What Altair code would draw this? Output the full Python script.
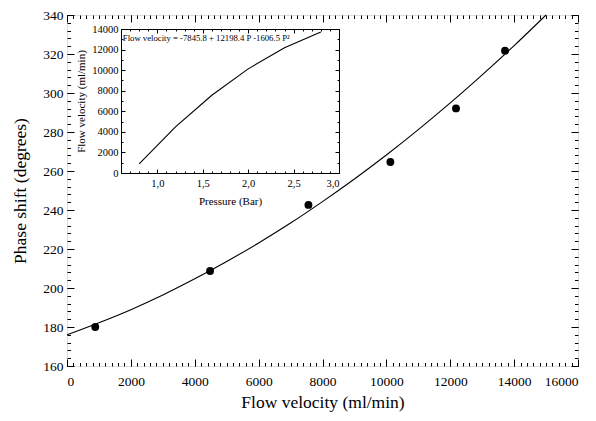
import altair as alt
import pandas as pd

# ---- data ----
main_flow = [885, 4480, 7560, 10125, 12180, 13715]
main_phase = [180.0, 208.7, 242.6, 264.6, 292.1, 321.7]

fit_flow = [0, 1000, 2000, 3000, 4000, 5000, 6000, 7000, 8000, 9000, 10000,
            11000, 12000, 13000, 14000, 15000]
fit_phase = [176.0, 182.2, 188.9, 196.4, 204.7, 213.6, 223.1, 233.3, 244.3,
             255.9, 268.2, 281.2, 294.9, 309.3, 324.3, 340.0]

inset_pressure = [0.8, 1.2, 1.6, 2.0, 2.4, 2.8]
inset_flow = [885, 4480, 7560, 10125, 12180, 13715]

main_x_ticks = [0, 2000, 4000, 6000, 8000, 10000, 12000, 14000, 16000]
main_y_ticks = [160, 180, 200, 220, 240, 260, 280, 300, 320, 340]
main_x_minor = [i * 200 for i in range(0, 81)]
main_y_minor = [160 + i * 4 for i in range(0, 46)]

inset_x_ticks = [1.0, 1.5, 2.0, 2.5, 3.0]
inset_y_ticks = [0, 2000, 4000, 6000, 8000, 10000, 12000, 14000]
inset_x_minor = [round(0.6 + i * 0.1, 2) for i in range(0, 25)]
inset_y_minor = [i * 1000 for i in range(0, 15)]

formula = "Flow velocity = -7845.8 + 12198.4 P -1606.5 P\u00b2"

# ---- layout ----
W, H = 511, 351
FONT = "Liberation Serif"
MX = [0, 16000]
MY = [160, 340]
IX = [0.6, 3.0]
IY = [0, 14000]
IXR = [54, 272]
IYR = [158, 14]

main_df = pd.DataFrame({"x": main_flow, "y": main_phase})
fit_df = pd.DataFrame({"x": fit_flow, "y": fit_phase})
inset_df = pd.DataFrame({"x": inset_pressure, "y": inset_flow})


def sx(dom, rng):
    return alt.Scale(domain=dom, range=rng, nice=False, zero=False)


def tick_axis(orient, offset, values, size, domain=False, width=1.0):
    return alt.Axis(orient=orient, offset=offset, values=values, tickSize=size,
                    labels=False, title=None, grid=False, domain=domain,
                    domainColor="black", domainWidth=width, tickColor="black",
                    tickWidth=1)


def dummy(xdom, ydom, xr, yr, xaxis, yaxis):
    df = pd.DataFrame({"x": [xdom[0]], "y": [ydom[0]]})
    return alt.Chart(df).mark_point(opacity=0).encode(
        x=alt.X("x:Q", scale=sx(xdom, xr), axis=xaxis),
        y=alt.Y("y:Q", scale=sx(ydom, yr), axis=yaxis),
    )


# main labelled axes
main_xaxis = alt.Axis(orient="bottom", values=main_x_ticks, ticks=False, domain=False,
                      grid=False, labelFont=FONT, labelFontSize=13.5, labelColor="black",
                      labelPadding=8, labelOverlap=False,
                      title="Flow velocity (ml/min)", titleFont=FONT,
                      titleFontSize=17.5, titleFontWeight="normal", titleColor="black",
                      titlePadding=6, format="d")
main_yaxis = alt.Axis(orient="left", values=main_y_ticks, ticks=False, domain=False,
                      grid=False, labelFont=FONT, labelFontSize=13.5, labelColor="black",
                      labelPadding=4, labelOverlap=False,
                      title="Phase shift (degrees)", titleFont=FONT,
                      titleFontSize=17.5, titleFontWeight="normal", titleColor="black",
                      titlePadding=13, format="d")

points = alt.Chart(main_df).mark_circle(size=62, color="black", opacity=1).encode(
    x=alt.X("x:Q", scale=sx(MX, [0, W]), axis=main_xaxis),
    y=alt.Y("y:Q", scale=sx(MY, [H, 0]), axis=main_yaxis),
)
curve = alt.Chart(fit_df).mark_line(color="black", strokeWidth=1.1,
                                    interpolate="monotone").encode(
    x=alt.X("x:Q", scale=sx(MX, [0, W]), axis=main_xaxis),
    y=alt.Y("y:Q", scale=sx(MY, [H, 0]), axis=main_yaxis),
)
main_layer = alt.layer(points, curve)

main_ticks = [
    dummy(MX, MY, [0, W], [H, 0],
          tick_axis("top", -H, main_x_ticks, 7), tick_axis("right", -W, main_y_ticks, 7)),
    dummy(MX, MY, [0, W], [H, 0],
          tick_axis("top", -H, main_x_minor, 3.5), tick_axis("right", -W, main_y_minor, 3.5)),
    dummy(MX, MY, [0, W], [H, 0],
          tick_axis("bottom", -H, main_x_ticks, 7), tick_axis("left", -W, main_y_ticks, 7)),
    dummy(MX, MY, [0, W], [H, 0],
          tick_axis("bottom", -H, main_x_minor, 3.5), tick_axis("left", -W, main_y_minor, 3.5)),
]

# inset
inset_xaxis = alt.Axis(orient="bottom", offset=IYR[0] - H, values=inset_x_ticks, ticks=False,
                       domain=True, domainColor="black", domainWidth=1, grid=False,
                       labelFont=FONT, labelFontSize=10.5, labelColor="black", labelPadding=5,
                       labelOverlap=False,
                       labelExpr="replace(format(datum.value, '.1f'), '.', ',')",
                       title="Pressure  (Bar)", titleFont=FONT, titleFontSize=11,
                       titleFontWeight="normal", titleColor="black", titlePadding=7)
inset_yaxis = alt.Axis(orient="left", offset=-IXR[0], values=inset_y_ticks, ticks=False,
                       domain=True, domainColor="black", domainWidth=1, grid=False,
                       labelFont=FONT, labelFontSize=10.5, labelColor="black", labelPadding=3,
                       labelOverlap=False,
                       format="d", title="Flow velocity (ml/min)", titleFont=FONT,
                       titleFontSize=11, titleFontWeight="normal", titleColor="black",
                       titlePadding=5)

inset_line = alt.Chart(inset_df).mark_line(color="black", strokeWidth=1.1).encode(
    x=alt.X("x:Q", scale=sx(IX, IXR), axis=inset_xaxis),
    y=alt.Y("y:Q", scale=sx(IY, IYR), axis=inset_yaxis),
)
text_df = pd.DataFrame({"x": [0.62], "y": [13150], "t": [formula]})
inset_text = alt.Chart(text_df).mark_text(align="left", baseline="middle", font=FONT,
                                          fontSize=8.7, color="black").encode(
    x=alt.X("x:Q", scale=sx(IX, IXR), axis=inset_xaxis),
    y=alt.Y("y:Q", scale=sx(IY, IYR), axis=inset_yaxis),
    text="t:N",
)
inset_layer = alt.layer(inset_line, inset_text)

inset_ticks = [
    dummy(IX, IY, IXR, IYR,
          tick_axis("top", -IYR[0], inset_x_ticks, 4),
          tick_axis("right", IXR[0] - W, inset_y_ticks, 4)),
    dummy(IX, IY, IXR, IYR,
          tick_axis("top", -IYR[0], inset_x_minor, 2),
          tick_axis("right", IXR[0] - W, inset_y_minor, 2)),
    dummy(IX, IY, IXR, IYR,
          tick_axis("bottom", IYR[1] - H, inset_x_ticks, 4, domain=True),
          tick_axis("left", -IXR[1], inset_y_ticks, 4, domain=True)),
    dummy(IX, IY, IXR, IYR,
          tick_axis("bottom", IYR[1] - H, inset_x_minor, 2),
          tick_axis("left", -IXR[1], inset_y_minor, 2)),
]

chart = alt.layer(main_layer, *main_ticks, inset_layer, *inset_ticks).resolve_scale(
    x="independent", y="independent"
).resolve_axis(x="independent", y="independent").properties(
    width=W, height=H,
    autosize=alt.AutoSizeParams(type="none"),
    padding={"left": 59, "top": 7, "right": 10, "bottom": 47},
).configure_view(
    stroke="black", strokeWidth=1.5
).configure_axis(
    labelFont=FONT, titleFont=FONT, titleFontWeight="normal", labelColor="black",
    titleColor="black"
).configure_text(font=FONT).configure(background="white", font=FONT)

chart.save("out.html", embed_options={"renderer": "svg", "actions": False})
